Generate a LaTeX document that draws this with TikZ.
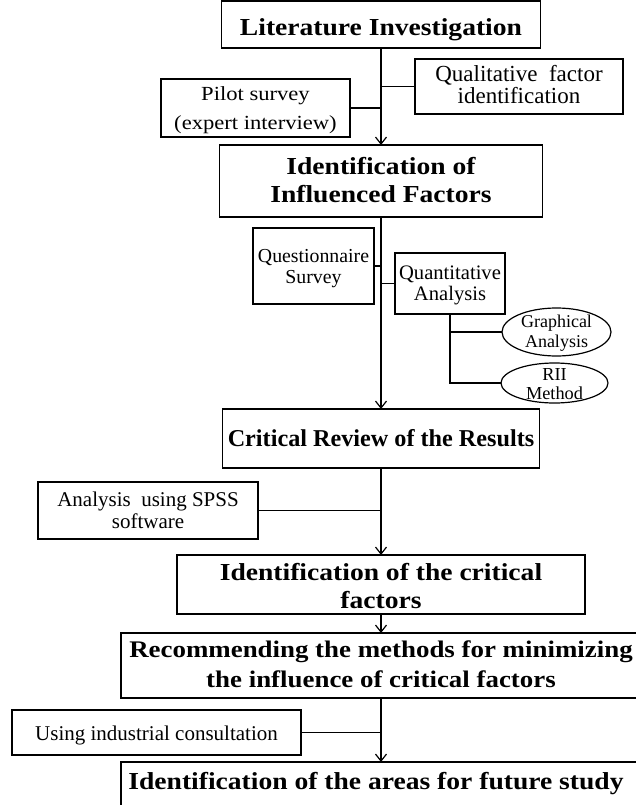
\documentclass[tikz,border=0pt]{standalone}
\usepackage{fontspec}
\setmainfont{Liberation Serif}
\newfontfamily\tfont{Liberation Serif}[FakeStretch=1.13]
\usetikzlibrary{arrows.meta,shapes.geometric}
\newcommand\ml[1]{\begin{tabular}[b]{@{}c@{}}#1\end{tabular}}
\newcommand\fs[2]{\fontsize{#1}{#2}\selectfont}
% lower the text so that its (last) baseline lies #1 below the node centre
\newcommand\tx[2]{\raisebox{-#1}[0pt][0pt]{#2}}
\begin{document}
\begin{tikzpicture}[x=1pt,y=-1pt,
  box/.style={draw, rectangle, line width=1.2pt, inner sep=0pt, outer sep=0pt},
  ell/.style={draw, ellipse, line width=1.2pt, inner sep=0pt, outer sep=0pt},
  ln/.style={line width=1.2pt},
  arr/.style={line width=1.2pt, -{Straight Barb[length=7pt,width=11pt]}},
  title/.style={font=\tfont\bfseries\fs{24.4}{28}}]
\useasboundingbox (0,0) rectangle (635,805);

\node[box, title, minimum width=319pt, minimum height=47pt] (lit) at (381,24.5) {\tx{11.5pt}{Literature Investigation}};
\node[box, font=\tfont\fs{20}{29}, minimum width=189pt, minimum height=58pt] (pilot) at (255.5,108) {\tx{22pt}{\ml{Pilot survey\\(expert interview)}}};
\node[box, font=\fs{23}{21}, minimum width=208pt, minimum height=55pt] (qual) at (519,86.5) {\tx{17.5pt}{\ml{Qualitative\ \ factor\\identification}}};
\node[box, title, minimum width=323pt, minimum height=72pt] (infl) at (381,181) {\tx{22pt}{\ml{Identification of\\Influenced Factors}}};
\node[box, font=\fs{19.8}{21}, minimum width=121pt, minimum height=76pt] (quest) at (313.5,266) {\tx{17pt}{\ml{Questionnaire\\Survey}}};
\node[box, font=\fs{20.6}{21}, minimum width=110pt, minimum height=61pt] (quant) at (450,283.5) {\tx{16.5pt}{\ml{Quantitative\\Analysis}}};
\node[ell, font=\fs{18}{20}, minimum width=109pt, minimum height=48pt] (graph) at (556.5,332) {\tx{15pt}{\ml{Graphical\\Analysis}}};
\node[ell, font=\fs{18.3}{18}, minimum width=107pt, minimum height=40pt] (rii) at (554.5,383) {\tx{16pt}{\ml{RII\\Method}}};
\node[box, font=\bfseries\fs{24.2}{28}, minimum width=317pt, minimum height=59pt] (crit) at (381,438.5) {\tx{7.5pt}{Critical Review of the Results}};
\node[box, font=\fs{21}{22}, minimum width=220pt, minimum height=57pt] (spss) at (148,510.5) {\tx{17.5pt}{\ml{Analysis\ \ using SPSS\\software}}};
\node[box, title, minimum width=408pt, minimum height=59pt] (identcrit) at (381,584.5) {\tx{23.5pt}{\ml{Identification of the critical\\factors}}};
\node[box, font=\tfont\bfseries\fs{23.8}{30}, minimum width=520pt, minimum height=65pt] (recomm) at (381,665.5) {\tx{21.5pt}{\ml{Recommending the methods for minimizing\\the influence of critical factors}}};
\node[box, font=\fs{21}{22}, minimum width=289pt, minimum height=45pt] (using) at (156.5,732.5) {\tx{7.5pt}{Using industrial consultation}};
\node[box, title, minimum width=520pt, minimum height=50pt] (final) at (381,787) {\tx{2pt}{Identification of the areas for future study\hspace{10pt}}};

\draw[arr] (lit.south) -- (infl.north);
\draw[ln] (pilot.east) -- (pilot.east -| lit.south);
\draw[ln] (qual.west) -- (qual.west -| lit.south);
\draw[arr] (infl.south) -- (crit.north);
\draw[ln] (quest.east) -- (quest.east -| infl.south);
\draw[ln] (quant.west) -- (quant.west -| infl.south);
\draw[ln] (quant.south) |- (rii.west);
\draw[ln] (graph.west) -- (graph.west -| quant.south);
\draw[arr] (crit.south) -- (identcrit.north);
\draw[ln] (spss.east) -- (spss.east -| crit.south);
\draw[arr] (identcrit.south) -- (recomm.north);
\draw[arr] (recomm.south) -- (final.north);
\draw[ln] (using.east) -- (using.east -| recomm.south);
\end{tikzpicture}
\end{document}
